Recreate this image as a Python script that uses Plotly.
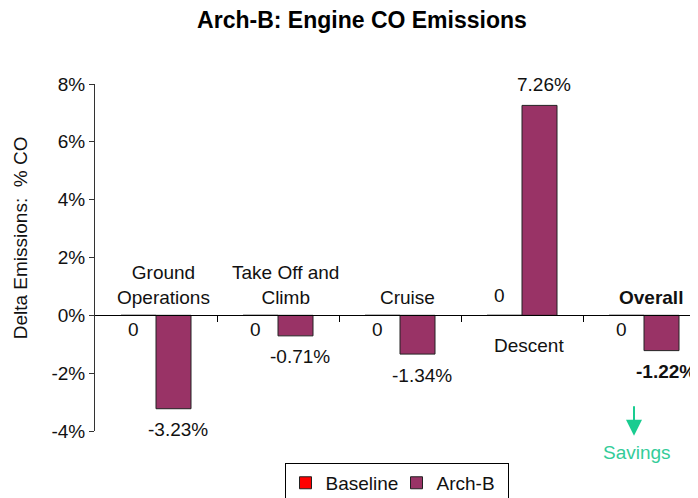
import plotly.graph_objects as go

# ---- data ----
categories = ["Ground<br>Operations", "Take Off and<br>Climb", "Cruise", "Descent", "<b>Overall</b>"]
baseline = [0, 0, 0, 0, 0]
arch_b = [-3.23, -0.71, -1.34, 7.26, -1.22]
y_ticks = [-4, -2, 0, 2, 4, 6, 8]
y_tick_labels = ["-4%", "-2%", "0%", "2%", "4%", "6%", "8%"]
series_names = ["Baseline", "Arch-B"]
series_colors = ["#FF0000", "#993366"]

FONT = "Liberation Sans, Arial, sans-serif"
BARGAP = 0.426
x_pos = list(range(len(categories)))
y_min, y_max = y_ticks[0], y_ticks[-1]
half = (1 - BARGAP) / 4  # offset of each bar centre from category centre

fig = go.Figure()
for name, vals, col in zip(series_names, [baseline, arch_b], series_colors):
    fig.add_trace(go.Bar(
        x=x_pos, y=vals, name=name,
        marker=dict(color=col, line=dict(color="#222222", width=1)),
        hoverinfo="skip",
    ))

annotations = []
for i, (b, v, cat) in enumerate(zip(baseline, arch_b, categories)):
    neg = v < 0
    # category label
    annotations.append(dict(
        x=i, y=0, xref="x", yref="y", text=cat, showarrow=False,
        xshift=7, yanchor="bottom" if neg else "top", yshift=5 if neg else -18,
        font=dict(size=19, family=FONT, color="#111111"),
    ))
    # baseline value label
    annotations.append(dict(
        x=i - half, y=b, xref="x", yref="y", text=f"{b:g}", showarrow=False,
        xshift=-5, yanchor="middle", yshift=-14 if neg else 20,
        font=dict(size=19, family=FONT, color="#111111"),
    ))
    # arch-b value label
    txt = f"{v:.2f}%"
    if i == len(categories) - 1:
        txt = f"<b>{txt}</b>"
    annotations.append(dict(
        x=i + half, y=v, xref="x", yref="y", text=txt, showarrow=False,
        xshift=4, yanchor="middle", yshift=-21 if neg else 21,
        font=dict(size=19, family=FONT, color="#111111"),
    ))

# Savings arrow + text
annotations.append(dict(
    x=len(categories) - 1, y=-0.014, xref="x", yref="paper", text="",
    xshift=-10, showarrow=True, ax=0, ay=-31, arrowhead=2, arrowsize=1.6,
    arrowwidth=2, arrowcolor="#19CC90",
))
annotations.append(dict(
    x=len(categories) - 1, y=-0.061, xref="x", yref="paper", text="Savings",
    xshift=-7, showarrow=False, yanchor="middle",
    font=dict(size=19, family=FONT, color="#33CC99"),
))
# y-axis title
annotations.append(dict(
    x=-0.124, y=0.556, xref="paper", yref="paper", text="Delta Emissions:  % CO",
    textangle=-90, showarrow=False, xanchor="center", yanchor="middle",
    font=dict(size=19, family=FONT, color="#111111"),
))

fig.update_layout(
    width=690, height=490,
    margin=dict(l=87, r=0, t=76, b=67, autoexpand=False),
    paper_bgcolor="white", plot_bgcolor="white",
    font=dict(family=FONT, size=19, color="#111111"),
    title=dict(text="<b>Arch-B: Engine CO Emissions</b>", x=0.513, xanchor="center",
               y=1 - 12 / 490, yanchor="middle", xref="container", yref="container",
               font=dict(size=23, family=FONT, color="#000000")),
    barmode="group", bargap=BARGAP, bargroupgap=0,
    showlegend=True,
    legend=dict(orientation="h", x=0.5, xanchor="center", y=-0.092, yanchor="top",
                bordercolor="#000000", borderwidth=1, bgcolor="white",
                font=dict(size=19, family=FONT, color="#111111"),
                itemwidth=30, traceorder="normal",
                entrywidth=66, entrywidthmode="pixels"),
    annotations=annotations,
)
fig.update_xaxes(
    range=[-0.5, len(categories) - 0.5 - 7 / 122],
    anchor="free", position=(0 - y_min) / (y_max - y_min),
    showline=True, linecolor="#000000", linewidth=1,
    ticks="outside", ticklen=6, tickcolor="#000000",
    tickvals=[i + 0.5 for i in x_pos[:-1]],
    showticklabels=False, showgrid=False, zeroline=False,
)
fig.update_yaxes(
    range=[y_min, y_max], tickvals=y_ticks, ticktext=y_tick_labels,
    showline=True, linecolor="#333333", linewidth=1,
    ticks="outside", ticklen=5, tickcolor="#333333",
    showgrid=False, zeroline=False,
    tickfont=dict(size=19, family=FONT, color="#111111"),
)

fig.write_html("out.html")
